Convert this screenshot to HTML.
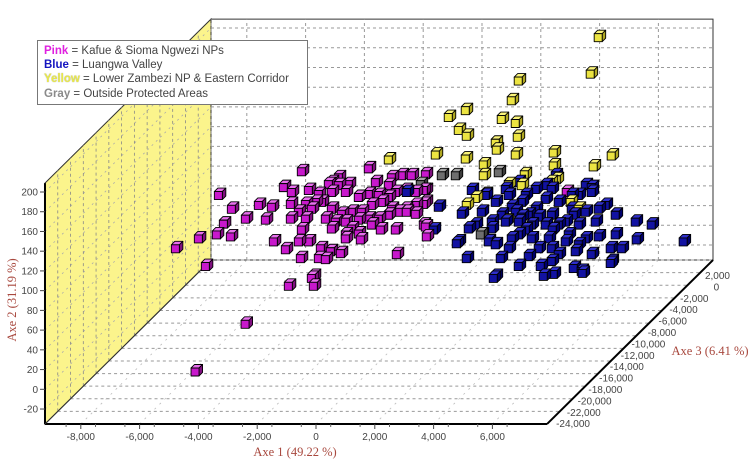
<!DOCTYPE html>
<html><head><meta charset="utf-8"><style>
html,body{margin:0;padding:0;background:#fff;}
svg{display:block;font-family:"Liberation Sans","DejaVu Sans",sans-serif;}
.legend{position:absolute;left:37px;top:40px;width:271px;height:65px;border:1px solid #777;background:#fff;font-family:"Liberation Sans",sans-serif;font-size:11.5px;color:#444;padding:0;box-sizing:border-box;}
.legend div{position:absolute;left:6px;white-space:nowrap;}
</style></head><body>
<div style="position:relative;width:754px;height:460px;overflow:hidden;">
<svg id="chart" width="754" height="460" viewBox="0 0 754 460"></svg>
<div class="legend">
<div style="top:4px"><b style="color:#e020e0">Pink</b> = Kafue &amp; Sioma Ngwezi NPs</div>
<div style="top:18px"><b style="color:#1414c0">Blue</b> = Luangwa Valley</div>
<div style="top:32px"><b style="color:#e8e84a;text-shadow:0 0 1px #999">Yellow</b> = Lower Zambezi NP &amp; Eastern Corridor</div>
<div style="top:47px"><b style="color:#8a8a8a">Gray</b> = Outside Protected Areas</div>
</div>
</div>
<script>
const xTicks=[-8000,-6000,-4000,-2000,0,2000,4000,6000];
const xTickLabels=["-8,000","-6,000","-4,000","-2,000","0","2,000","4,000","6,000"];
const yTicks=[200,180,160,140,120,100,80,60,40,20,0,-20];
const zTicks=[2000,0,-2000,-4000,-6000,-8000,-10000,-12000,-14000,-16000,-18000,-20000,-22000,-24000];
const zTickLabels=["2,000","0","-2,000","-4,000","-6,000","-8,000","-10,000","-12,000","-14,000","-16,000","-18,000","-20,000","-22,000","-24,000"];

const pinkA1=[-5644,-3366,-8466,-8024,-7548,-6256,-5984,-6018,-7106,-6664,-6868,-8296,-8534,-8058,-6596,-6188,-5678,-5236,-6086,-5236,-4998,-4658,-4828,-4318,-4148,-3638,-3944,-4624,-5406,-5746,-5644,-6018,-5508,-5304,-4964,-4624,-4284,-3944,-3604,-3264,-2924,-2584,-2346,-2074,-1768,-1428,-1428,-1768,-2108,-2448,-2686,-3026,-3366,-3706,-4148,-4386,-4726,-4624,-5066,-5406,-5168,-5508,-5746,-4828,-4488,-4148,-3706,-3366,-3026,-2686,-2108,-1768,-2958,-2448,-1428,-1394,-2414,-3264,-3706,-4148,-2584,-2244,-1904,-1428,-2686,-3128,-4386,-4624,-4046,-9146,-9928,-8908,-5304,-5066,-1496,-1496,-1496,3366,-4517,-4915];
const pinkA2=[69,72,45,31,21,53,48,36,35,33,20,16,5,3,-2,-10,-19,-37,-47,-47,-9,-12,-20,-14,1,0,11,11,-2,-2,10,21,21,31,38,31,26,28,28,35,38,31,28,28,35,38,50,48,50,48,43,45,46,43,48,55,56,48,46,50,38,36,28,21,18,18,20,21,21,25,31,26,10,10,13,3,-15,15,6,5,63,65,65,66,55,58,63,58,56,1,-9,-27,-39,-19,50,36,15,48,4,-6];
const pinkA3=[0,0,0,0,0,0,0,0,0,0,0,0,0,0,0,0,0,0,0,0,0,0,0,0,0,0,0,0,0,0,0,0,0,0,0,0,0,0,0,0,0,0,0,0,0,0,0,0,0,0,0,0,0,0,0,0,0,0,0,0,0,0,0,0,0,0,0,0,0,0,0,0,0,0,0,0,0,0,0,0,0,0,0,0,0,0,0,0,0,0,0,0,0,0,0,0,0,0,-14000,-20000];

const blueA1=[136,-986,-204,272,-306,-34,476,952,1122,952,1394,1734,2074,2482,2584,2924,2414,2754,3094,3604,3876,3672,4216,4012,3434,3094,2652,2176,1734,1292,816,476,952,1394,1836,2312,2652,3094,3536,4012,4454,4216,3774,2856,2652,2992,1734,1292,1156,1632,2074,2856,3332,3774,4352,4692,5032,5032,4862,4896,5236,5712,5746,6256,7344,3332,3774,2856,2176,1496,816,34,612,1972,2312,3536,4012,4216,-2074,-1156,-374,884,4862,3910,1836,2414,1496,1972,2890,714,1734,2856,3604,4454];
const blueA2=[50,33,26,15,-2,-19,5,-5,-19,-37,-9,5,-17,-27,-37,-35,-9,1,-15,-29,-32,-12,-15,1,5,15,15,15,18,18,18,28,38,45,38,31,41,38,31,28,31,48,45,51,55,65,58,51,25,28,25,25,18,15,18,35,25,5,-9,-22,-9,18,0,15,-2,-2,-5,-9,1,1,11,11,45,45,51,45,55,53,48,10,-4,-39,-24,-34,23,23,33,10,10,-2,-27,-22,25,3];

const yellowA1=[4454,4182,1734,1496,-68,-646,1156,1632,-306,-34,1700,952,986,-1088,-68,1632,2924,4896,544,2924,4284,544,1938,1836,2822,3026,1394,612,272,-34,3502,1326,3774,-2686];
const yellowA2=[205,168,161,141,131,124,122,118,111,105,104,98,91,86,82,86,88,85,76,75,74,65,66,55,58,61,56,46,42,35,38,19,31,81];

const grayA1=[-884,-408,1054,442,-1598];
const grayA2=[65,65,68,5,56];

const NS="http://www.w3.org/2000/svg";
const svg=document.getElementById('chart');
const XMIN=-9218,XMAX=7857,YMIN=-35.2,YMAX=209,ZMIN=-24000,ZMAX=2000;
function tz(a3){return (a3-ZMIN)/(ZMAX-ZMIN);}
function px(a1,a2,a3){return 316+a1*0.0294+166*tz(a3);}
function py(a1,a2,a3){return 192+(200-a2)*0.9865-164*tz(a3);}
function mk(tag,attrs,parent){const e=document.createElementNS(NS,tag);for(const k in attrs)e.setAttribute(k,attrs[k]);(parent||svg).appendChild(e);return e;}
function line(a,b,c,d,stroke,w,dash,parent){return mk('line',{x1:a,y1:b,x2:c,y2:d,stroke:stroke,'stroke-width':w,'stroke-dasharray':dash||'none'},parent);}

const wall=mk('polygon',{points:[[px(XMIN,YMIN,ZMIN),py(XMIN,YMIN,ZMIN)],[px(XMIN,YMAX,ZMIN),py(XMIN,YMAX,ZMIN)],[px(XMIN,YMAX,ZMAX),py(XMIN,YMAX,ZMAX)],[px(XMIN,YMIN,ZMAX),py(XMIN,YMIN,ZMAX)]].map(p=>p.join(',')).join(' '),fill:'#fbf48c',stroke:'#333','stroke-width':1});


const back=mk('polygon',{points:[[px(XMIN,YMIN,ZMAX),py(XMIN,YMIN,ZMAX)],[px(XMIN,YMAX,ZMAX),py(XMIN,YMAX,ZMAX)],[px(XMAX,YMAX,ZMAX),py(XMAX,YMAX,ZMAX)],[px(XMAX,YMIN,ZMAX),py(XMAX,YMIN,ZMAX)]].map(p=>p.join(',')).join(' '),fill:'#fff',stroke:'#333','stroke-width':1});



const grid=mk('g',{});


const gc='#999',gd='3,3';
yTicks.forEach(v=>{
  line(px(XMIN,v,ZMAX),py(XMIN,v,ZMAX),px(XMAX,v,ZMAX),py(XMAX,v,ZMAX),gc,1,gd,grid);
  line(px(XMIN,v,ZMIN),py(XMIN,v,ZMIN),px(XMIN,v,ZMAX),py(XMIN,v,ZMAX),'#aaa',0.8,'2,4',grid);
});
xTicks.forEach(v=>{
  line(px(v,YMIN,ZMAX),py(v,YMIN,ZMAX),px(v,YMAX,ZMAX),py(v,YMAX,ZMAX),gc,1,gd,grid);
  line(px(v,YMIN,ZMIN),py(v,YMIN,ZMIN),px(v,YMIN,ZMAX),py(v,YMIN,ZMAX),'#bbb',0.8,'2,5',grid);
});
zTicks.forEach(v=>{
  line(px(XMIN,YMIN,v),py(XMIN,YMIN,v),px(XMAX,YMIN,v),py(XMAX,YMIN,v),gc,1,gd,grid);
  line(px(XMIN,YMIN,v),py(XMIN,YMIN,v),px(XMIN,YMAX,v),py(XMIN,YMAX,v),'#888',0.8,gd,grid);
});
const axes=mk('g',{});


line(px(XMIN,YMIN,ZMIN),py(XMIN,YMIN,ZMIN),px(XMIN,YMAX,ZMIN),py(XMIN,YMAX,ZMIN),'#000',2,null,axes);
line(px(XMIN,YMIN,ZMIN),py(XMIN,YMIN,ZMIN),px(XMAX,YMIN,ZMIN),py(XMAX,YMIN,ZMIN),'#000',2,null,axes);
line(px(XMAX,YMIN,ZMIN),py(XMAX,YMIN,ZMIN),px(XMAX,YMIN,ZMAX),py(XMAX,YMIN,ZMAX),'#000',2,null,axes);
line(px(XMIN,YMIN,ZMIN),py(XMIN,YMIN,ZMIN),px(XMIN,YMIN,ZMAX),py(XMIN,YMIN,ZMAX),'#333',1,null,axes);

const lab=mk('g',{'font-size':'10','fill':'#444'});


yTicks.forEach(v=>{
  const y=py(XMIN,v,ZMIN);
  line(40,y,45,y,'#444',1,null,lab);
  const t=mk('text',{x:38,y:y+3.5,'text-anchor':'end'},lab);t.textContent=String(v);
});
xTicks.forEach((v,i)=>{
  const x=px(v,YMIN,ZMIN);
  line(x,424,x,429,'#444',1,null,lab);
  line(x+14.7,424,x+14.7,427,'#666',1,null,lab);
  line(x-14.7,424,x-14.7,427,'#666',1,null,lab);
  const t=mk('text',{x:x,y:440,'text-anchor':'middle'},lab);t.textContent=xTickLabels[i];
});
zTicks.forEach((v,i)=>{
  const t=mk('text',{x:730-10.77*i,y:279+11.4*i,'text-anchor':'end'},lab);t.textContent=zTickLabels[i];
});

function title(txt,x,y,rot,name){
  const t=mk('text',{x:x,y:y,'font-family':'"Liberation Serif",serif','font-size':'12.5','fill':'#a8483e','text-anchor':'middle',transform:rot?`rotate(-90 ${x} ${y})`:''});
  t.textContent=txt;
  
  
}
title('Axe 1 (49.22 %)',295,456,false,'x-axis-title');
title('Axe 2 (31.19 %)',16,300,true,'y-axis-title');
title('Axe 3 (6.41 %)',710,355,false,'z-axis-title');

const pts=[];
function addSeries(a1,a2,a3,col,name){for(let i=0;i<a1.length;i++)pts.push({a1:a1[i],a2:a2[i],a3:a3?a3[i]:0,col:col,name:name});}
const PINK=['#c818cc','#e870ee','#801080'],BLUE=['#1212a2','#3030cc','#00006c'],YEL=['#ece442','#faf47a','#b0a822'],GRY=['#6e6e6e','#a4a4a4','#3c3c3c'];
addSeries(pinkA1,pinkA2,pinkA3,PINK,'pink-point');
addSeries(blueA1,blueA2,null,BLUE,'blue-point');
addSeries(yellowA1,yellowA2,null,YEL,'yellow-point');
addSeries(grayA1,grayA2,null,GRY,'gray-point');
pts.forEach(p=>{p.x=px(p.a1,p.a2,p.a3);p.y=py(p.a1,p.a2,p.a3);});
pts.sort((a,b)=>a.y-b.y);
const pg=mk('g',{stroke:'#000','stroke-width':'0.9','stroke-linejoin':'round'});


pts.forEach(p=>{
  const g=mk('g',{},pg);
  
  
  const cx=p.x,cy=p.y;
  mk('polygon',{points:`${cx-6},${cy-2} ${cx-2.5},${cy-5.5} ${cx+5.5},${cy-5.5} ${cx+2},${cy-2}`,fill:p.col[1]},g);
  mk('polygon',{points:`${cx+2},${cy-2} ${cx+5.5},${cy-5.5} ${cx+5.5},${cy+2.5} ${cx+2},${cy+6}`,fill:p.col[2]},g);
  mk('rect',{x:cx-6,y:cy-2,width:8,height:8,fill:p.col[0]},g);
});
</script>
</body></html>
